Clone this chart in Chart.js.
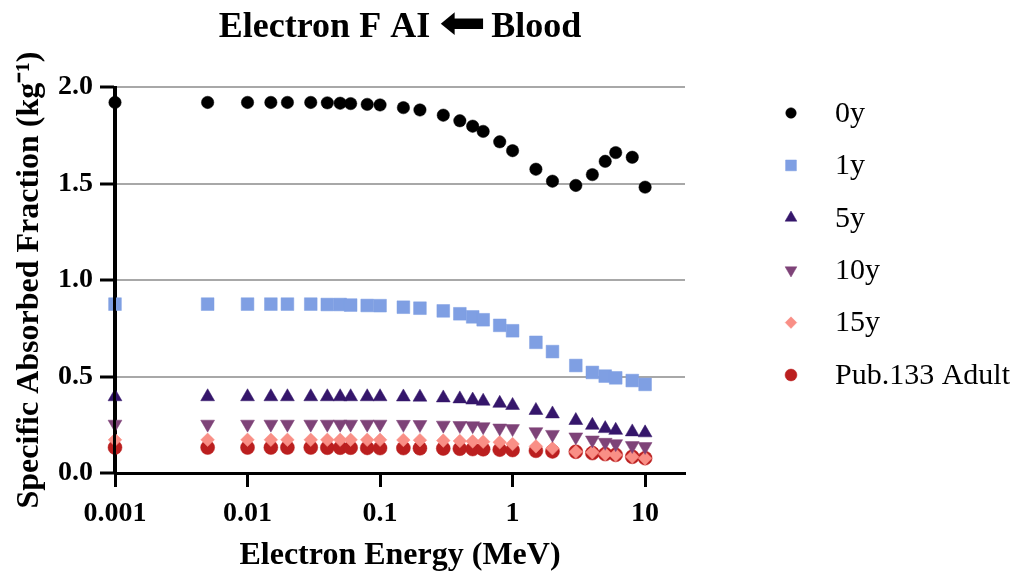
<!DOCTYPE html>
<html lang="en">
<head>
<meta charset="UTF-8">
<title>Electron F AI ⬅ Blood</title>
<script src="https://cdn.jsdelivr.net/npm/chart.js"></script>
<style>
  html, body { margin: 0; padding: 0; background: #fff; }
  #wrap { width: 1024px; height: 577px; position: relative; }
</style>
</head>
<body>
<div id="wrap"><canvas id="saf"></canvas></div>
<script>
// electron energies (MeV)
const energies = [0.001, 0.005, 0.01, 0.015, 0.02, 0.03, 0.04, 0.05, 0.06, 0.08, 0.1,
  0.15, 0.2, 0.3, 0.4, 0.5, 0.6, 0.8, 1, 1.5, 2, 3, 4, 5, 6, 8, 10];

// SAF (kg^-1), AI <- Blood, one list per phantom age
const saf0y = [1.92, 1.92, 1.92, 1.92, 1.92, 1.92, 1.918, 1.916, 1.914, 1.91, 1.907,
  1.893, 1.881, 1.854, 1.825, 1.797, 1.770, 1.716, 1.670, 1.574, 1.512, 1.490, 1.546, 1.615, 1.660, 1.636, 1.481];
const saf1y = [0.875, 0.875, 0.875, 0.875, 0.875, 0.875, 0.873, 0.873, 0.870, 0.868, 0.867,
  0.859, 0.854, 0.840, 0.825, 0.809, 0.794, 0.765, 0.737, 0.677, 0.629, 0.557, 0.521, 0.502, 0.493, 0.479, 0.459];
const saf5y = [0.395, 0.395, 0.395, 0.395, 0.395, 0.395, 0.395, 0.395, 0.395, 0.395, 0.395,
  0.394, 0.393, 0.389, 0.384, 0.378, 0.372, 0.361, 0.350, 0.324, 0.306, 0.272, 0.247, 0.230, 0.221, 0.213, 0.208];
const saf10y = [0.253, 0.253, 0.253, 0.253, 0.253, 0.253, 0.253, 0.253, 0.253, 0.253, 0.253,
  0.252, 0.251, 0.248, 0.246, 0.245, 0.240, 0.233, 0.230, 0.214, 0.200, 0.187, 0.171, 0.159, 0.152, 0.142, 0.137];
const saf15y = [0.172, 0.172, 0.172, 0.172, 0.172, 0.172, 0.172, 0.172, 0.172, 0.172, 0.172,
  0.171, 0.170, 0.168, 0.166, 0.164, 0.162, 0.159, 0.150, 0.138, 0.128, 0.110, 0.107, 0.098, 0.093, 0.084, 0.076];
const safAdult = [0.132, 0.132, 0.132, 0.132, 0.132, 0.132, 0.131, 0.131, 0.131, 0.130, 0.129,
  0.129, 0.128, 0.127, 0.126, 0.124, 0.123, 0.121, 0.119, 0.115, 0.112, 0.110, 0.103, 0.098, 0.094, 0.084, 0.077];

const seriesNames = ['0y', '1y', '5y', '10y', '15y', 'Pub.133 Adult'];
const seriesValues = [saf0y, saf1y, saf5y, saf10y, saf15y, safAdult];

const xTickValues = [0.001, 0.01, 0.1, 1, 10];
const yTickValues = [0, 0.5, 1, 1.5, 2];

const titleParts = ['Electron F AI', '⬅', 'Blood'];

// marker look per series
const markers = [
  { color: '#000000', style: 'circle',   radius: 6.2, rotation: 0 },
  { color: '#7f9fe3', style: 'rect',     radius: 9,   rotation: 0 },
  { color: '#35166b', style: 'triangle', radius: 8,   rotation: 0 },
  { color: '#7e4378', style: 'triangle', radius: 8,   rotation: 180 },
  { color: '#f98f86', style: 'rectRot',  radius: 6.8, rotation: 0 },
  { color: '#bb1f1f', style: 'circle',   radius: 7,   rotation: 0 }
];

const serif = '"Liberation Serif", "Times New Roman", serif';
Chart.defaults.font.family = serif;
Chart.defaults.color = '#000';

const datasets = seriesNames.map((name, i) => ({
  label: name,
  data: energies.map((e, j) => ({ x: e, y: seriesValues[i][j] })),
  showLine: false,
  clip: false,
  pointStyle: markers[i].style,
  rotation: markers[i].rotation,
  pointRadius: markers[i].radius,
  pointHoverRadius: markers[i].radius,
  pointBackgroundColor: markers[i].color,
  pointBorderColor: markers[i].color,
  pointBorderWidth: 0.5
}));

// y axis line is painted over the markers sitting on it
const axisOnTop = {
  id: 'axisOnTop',
  afterDatasetsDraw(chart) {
    const { ctx, chartArea } = chart;
    ctx.save();
    ctx.strokeStyle = '#000';
    ctx.lineWidth = 3;
    ctx.beginPath();
    ctx.moveTo(chartArea.left - 0.5, chartArea.top - 1);
    ctx.lineTo(chartArea.left - 0.5, chartArea.bottom + 1);
    ctx.stroke();
    ctx.restore();
  }
};

// heading with a wide block arrow, centred over the plot area
const headline = {
  id: 'headline',
  afterDraw(chart) {
    const { ctx, chartArea } = chart;
    const textFont = 'bold 36px ' + serif;
    const arrowFont = '46px "DejaVu Sans"';
    const arrowWidth = 47;
    const baseline = 37;
    ctx.save();
    ctx.fillStyle = '#000';
    ctx.textBaseline = 'alphabetic';
    ctx.textAlign = 'left';
    ctx.font = textFont;
    const wLeft = ctx.measureText(titleParts[0]).width;
    const wRight = ctx.measureText(titleParts[2]).width;
    ctx.font = arrowFont;
    const wArrowRaw = ctx.measureText(titleParts[1]).width;
    const gapL = 9, gapR = 5;
    const total = wLeft + gapL + arrowWidth + gapR + wRight;
    let x = (chartArea.left + chartArea.right) / 2 - total / 2;
    ctx.font = textFont;
    ctx.fillText(titleParts[0], x, baseline);
    x += wLeft + gapL;
    ctx.save();
    ctx.translate(x, baseline + 1);
    ctx.scale(arrowWidth / wArrowRaw, 1);
    ctx.font = arrowFont;
    ctx.fillText(titleParts[1], 0, 0);
    ctx.restore();
    x += arrowWidth + gapR;
    ctx.font = textFont;
    ctx.fillText(titleParts[2], x, baseline);
    ctx.restore();
  }
};

// legend column to the right of the plot
const sideLegend = {
  id: 'sideLegend',
  afterDraw(chart) {
    const { ctx, chartArea } = chart;
    const mx = chartArea.right + 106;
    ctx.save();
    ctx.font = '30px ' + serif;
    ctx.textBaseline = 'middle';
    ctx.textAlign = 'left';
    chart.data.datasets.forEach((ds, i) => {
      const y = chartArea.top + 26 + i * 52.4;
      ctx.fillStyle = ds.pointBackgroundColor;
      ctx.strokeStyle = ds.pointBorderColor;
      ctx.lineWidth = 0.5;
      Chart.helpers.drawPoint(ctx, {
        pointStyle: ds.pointStyle,
        rotation: ds.rotation,
        radius: ds.pointRadius * 0.85,
        borderWidth: 0.5
      }, mx, y);
      ctx.fillStyle = '#000';
      ctx.fillText(ds.label, mx + 44, y + 1);
    });
    ctx.restore();
  }
};

new Chart(document.getElementById('saf'), {
  type: 'scatter',
  data: { datasets },
  plugins: [axisOnTop, headline, sideLegend],
  options: {
    responsive: true,
    maintainAspectRatio: false,
    animation: false,
    layout: { padding: { left: 0, right: 339, top: 87, bottom: 0 } },
    plugins: {
      legend: { display: false },
      tooltip: { enabled: false },
      title: { display: false }
    },
    scales: {
      x: {
        type: 'logarithmic',
        min: 0.001,
        max: 20,
        afterBuildTicks: scale => { scale.ticks = xTickValues.map(v => ({ value: v })); },
        afterFit: scale => { scale.height = 104; },
        ticks: {
          autoSkip: false,
          maxRotation: 0,
          padding: 10,
          color: '#000',
          font: { size: 28, weight: 'bold' },
          callback: v => String(v)
        },
        grid: {
          drawOnChartArea: false,
          tickColor: '#000',
          tickWidth: 3,
          tickLength: 14
        },
        border: { color: '#000', width: 3 },
        title: {
          display: true,
          text: 'Electron Energy (MeV)',
          color: '#000',
          font: { size: 32, weight: 'bold', lineHeight: 1.2 },
          padding: { top: 0, bottom: 2 }
        }
      },
      y: {
        min: 0,
        max: 2,
        afterBuildTicks: scale => { scale.ticks = yTickValues.map(v => ({ value: v })); },
        afterFit: scale => { scale.width = 115; },
        ticks: {
          padding: 7,
          color: '#000',
          font: { size: 28, weight: 'bold' },
          callback: v => Number(v).toFixed(1)
        },
        grid: {
          color: c => (c.tick && c.tick.value === 0 ? 'rgba(0,0,0,0)' : '#a8a8a8'),
          lineWidth: 2,
          tickColor: '#000',
          tickWidth: 3,
          tickLength: 15
        },
        border: { color: '#000', width: 3 },
        title: {
          display: true,
          text: 'Specific Absorbed Fraction (kg⁻¹)',
          color: '#000',
          font: { size: 32, weight: 'bold', lineHeight: 1.2 },
          padding: { top: 11, bottom: 0 }
        }
      }
    }
  }
});
</script>
</body>
</html>
